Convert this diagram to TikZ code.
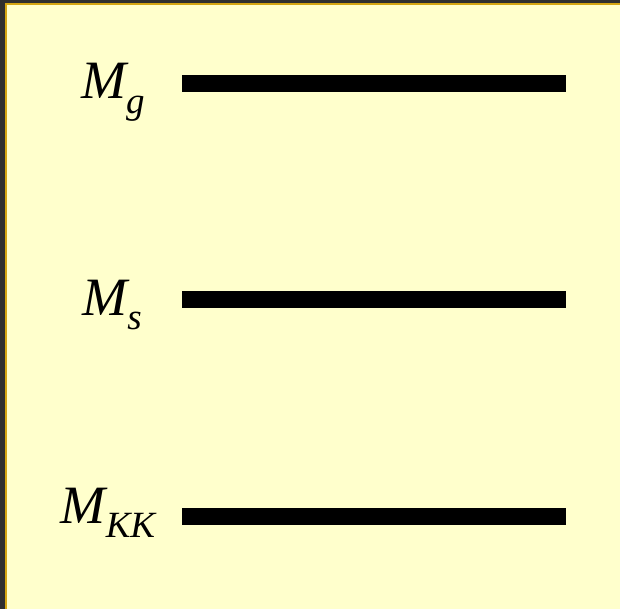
\documentclass[tikz,border=0pt]{standalone}
\usepackage{fontspec}
\setmainfont{Liberation Serif}
\definecolor{panelfill}{HTML}{FFFFCC}
\definecolor{panelrim}{HTML}{D4A512}
\definecolor{screen}{HTML}{2F2F2F}
\newcommand{\levlabel}[2]{\fontsize{54}{54}\selectfont\itshape #1\raisebox{-0.26em}{\fontsize{37}{37}\selectfont\itshape #2}}
\tikzset{
  level/.style={line width=17pt, line cap=butt},
  lab/.style={anchor=base, inner sep=0pt}
}
\begin{document}
\begin{tikzpicture}[x=1pt,y=-1pt]
    \useasboundingbox (0,0) rectangle (620,609);
    \fill[screen] (0,0) rectangle (620,609);
    \draw[panelrim, line width=2pt, fill=panelfill] (6,4) rectangle (630,620);

%    levels
    \coordinate (g0) at (182,83.5);  \coordinate (g1) at (566,83.5);
    \coordinate (s0) at (182,299.5); \coordinate (s1) at (566,299.5);
    \coordinate (k0) at (182,516.5); \coordinate (k1) at (566,516.5);

    \draw[level] (g0) -- (g1);
    \draw[level] (s0) -- (s1);
    \draw[level] (k0) -- (k1);

    \node[lab] (mg) at (113,99) {\levlabel{M}{g}};
    \node[lab] (ms) at (112,315) {\levlabel{M}{s}};
    \node[lab] (mkk) at (108,523) {\levlabel{M}{KK}};

\end{tikzpicture}
\end{document}
